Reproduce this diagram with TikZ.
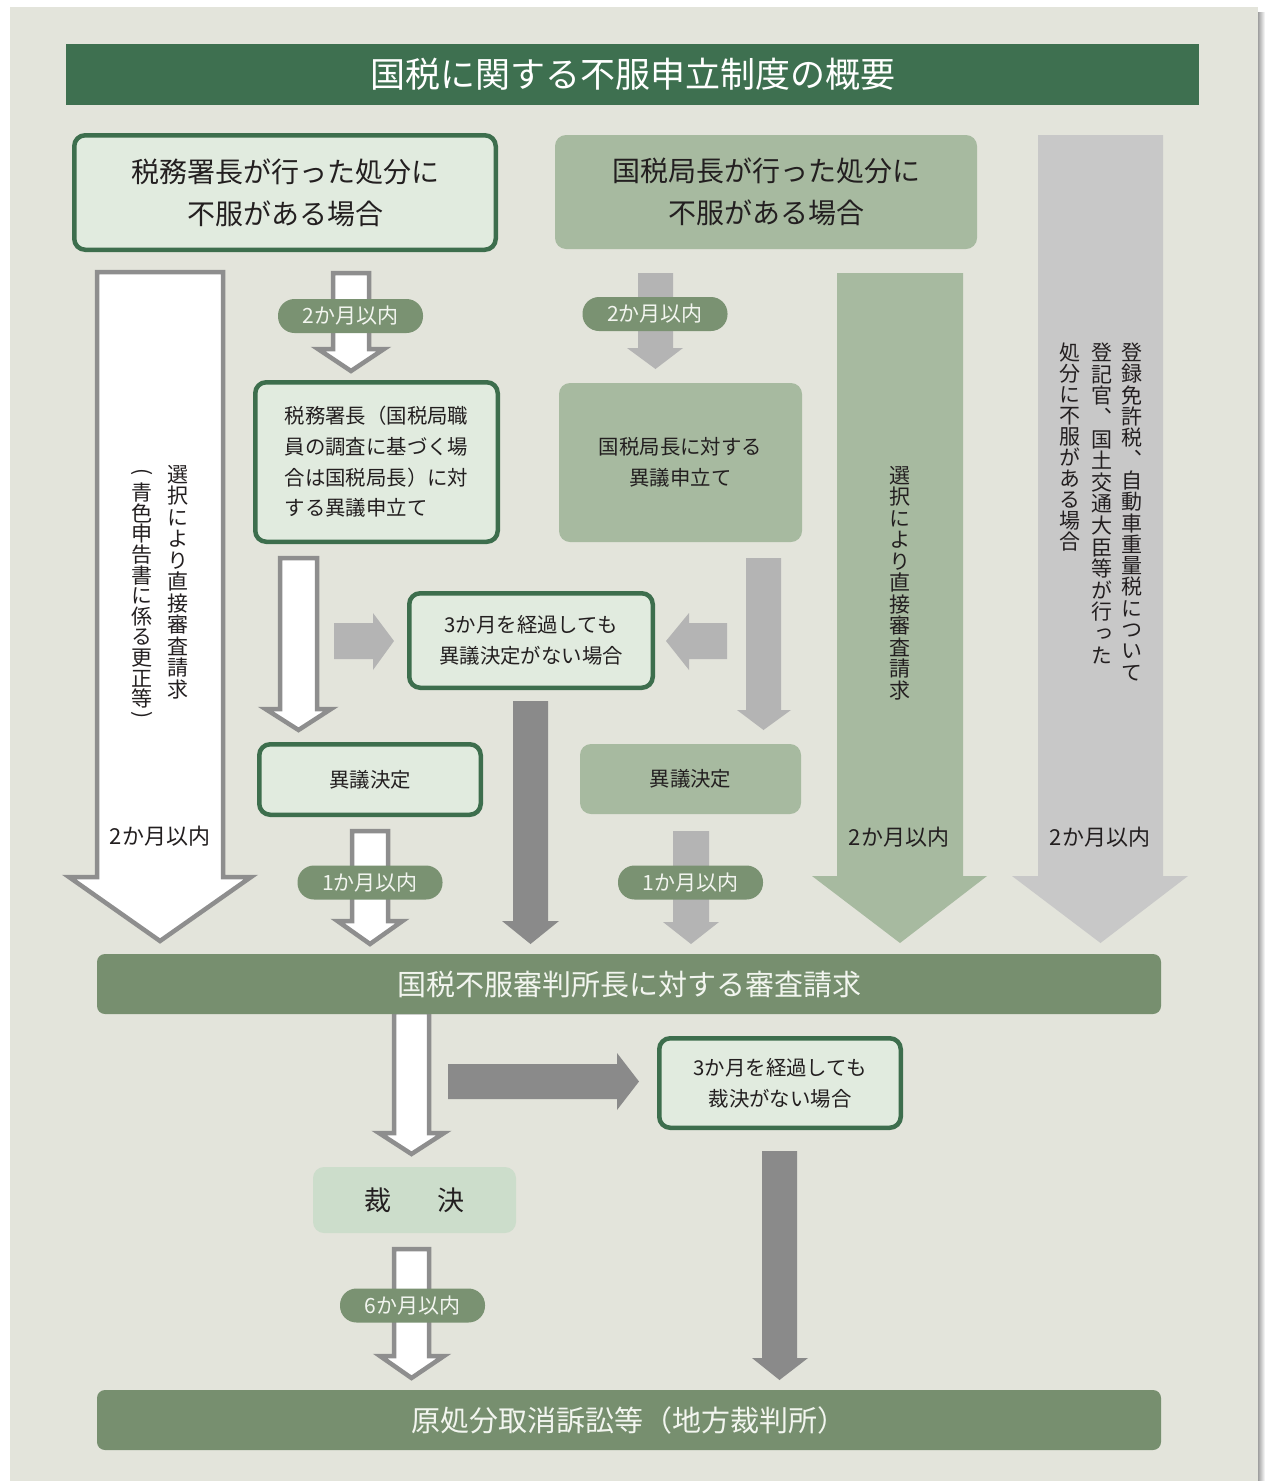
\documentclass[tikz,border=0pt]{standalone}
\usepackage{fontspec}
\setmainfont{Noto Sans CJK JP}
\newfontfamily\vjp[RawFeature=+vert]{Noto Sans CJK JP}
\definecolor{panel}{HTML}{E3E4DB}
\definecolor{titlec}{HTML}{3E7050}
\definecolor{dkgreen}{HTML}{3D6E4D}
\definecolor{ltgreen}{HTML}{E1EBDF}
\definecolor{mdgreen}{HTML}{A7BAA0}
\definecolor{pillc}{HTML}{7A9272}
\definecolor{barc}{HTML}{778F6F}
\definecolor{grayA}{HTML}{B4B4B4}
\definecolor{grayB}{HTML}{C8C8C8}
\definecolor{grayC}{HTML}{8A8A8A}
\definecolor{bordgray}{HTML}{8E8E8E}
\definecolor{saic}{HTML}{CCDDCB}
\definecolor{txt}{HTML}{231F20}
\definecolor{pilltxt}{HTML}{F2F5EF}
\newcommand\vcol[2]{\vbox{\baselineskip=#1\lineskiplimit=-\maxdimen\lineskip=0pt\vcolloop#2\relax}}
\def\vcolloop#1{\ifx\relax#1\else\hbox to 1em{\hss#1\hss}\expandafter\vcolloop\fi}
% #1 style, #2 xl, #3 xr, #4 top, #5 neck, #6 head left, #7 head right, #8 tip
\newcommand\DArr[8]{\path[#1] (#2,#4) -- (#3,#4) -- (#3,#5) -- (#7,#5) -- ({(#2+#3)/2},#8) -- (#6,#5) -- (#2,#5) -- cycle;}
% #1 style, #2 x start, #3 x neck, #4 tip x, #5 y top, #6 y bottom, #7 head top, #8 head bottom
\newcommand\RArr[8]{\path[#1] (#2,#5) -- (#3,#5) -- (#3,#7) -- (#4,{(#5+#6)/2}) -- (#3,#8) -- (#3,#6) -- (#2,#6) -- cycle;}
\tikzset{
  base/.style={inner sep=0pt, outer sep=0pt, text=txt},
  dbox/.style={base, draw=dkgreen, line width=4.5pt, fill=ltgreen, rounded corners=11pt},
  mbox/.style={base, fill=mdgreen, rounded corners=11pt},
  bar/.style={base, fill=barc, rounded corners=8pt, text=pilltxt, minimum width=1064pt, minimum height=60pt, font=\fontsize{29}{29}\selectfont},
  pill/.style={base, fill=pillc, rounded corners=16.5pt, text=pilltxt, font=\fontsize{21}{21}\selectfont, minimum width=145pt, minimum height=34pt},
  wa/.style={draw=bordgray, line width=4.5pt, fill=white, line join=miter, miter limit=10},
  vt/.style={base, font=\vjp\fontsize{21}{21}\selectfont},
  big/.style={base, font=\fontsize{22}{22}\selectfont},
  small/.style={font=\fontsize{20.4}{30.7}\selectfont, align=center},
}
\begin{document}
\begin{tikzpicture}[x=1pt,y=-1pt]
\useasboundingbox (0,0) rectangle (1265,1481);
\fill[white] (0,0) rectangle (1265,1481);
\shade[left color=gray!75, right color=white] (1258,12) rectangle (1265,1481);
\fill[panel] (10,7) rectangle (1258,1481);

% title
\node[base, fill=titlec, minimum width=1133pt, minimum height=61pt, text=white, font=\fontsize{35}{35}\selectfont] (title) at (632.5,74.5) {国税に関する不服申立制度の概要};

% big arrows
\DArr{wa}{97}{223}{272}{877}{69}{251}{941}
\DArr{fill=mdgreen}{837}{963}{273}{876}{812}{987}{943}
\DArr{fill=grayB}{1038}{1163}{135}{876}{1012}{1188}{943}

% small arrows
\DArr{wa}{333}{369}{273}{349}{318}{384}{371}
\DArr{fill=grayA}{638}{673}{273}{348}{627}{683}{369}
\DArr{wa}{280}{317}{558}{709}{265.5}{331}{730}
\DArr{fill=grayA}{746}{781}{558}{710}{737}{791}{730}
\RArr{fill=grayA}{334}{373}{394}{623}{659}{613}{670}
\RArr{fill=grayA}{727}{689}{666}{623}{659}{613}{670}
\DArr{fill=grayC}{513}{548}{701}{921}{502}{559}{944}
\DArr{wa}{352}{388}{831}{921}{337.5}{402.5}{944}
\DArr{fill=grayA}{673}{709}{831}{922}{663}{719}{944}
\DArr{wa}{394}{429}{1012}{1133}{379}{444}{1154}
\RArr{fill=grayC}{448}{617}{639}{1064}{1099}{1053}{1110}
\DArr{fill=grayC}{762}{797}{1151}{1358}{752}{808}{1380}
\DArr{wa}{394}{429}{1249}{1356}{380}{444}{1378}

% boxes
\node[dbox, minimum width=421.5pt, minimum height=114.5pt, font=\fontsize{28}{42}\selectfont, align=center] (b1) at (285,192.5) {税務署長が行った処分に\\不服がある場合};
\node[mbox, minimum width=422pt, minimum height=114pt, font=\fontsize{28}{42}\selectfont, align=center] (b2) at (766,192) {国税局長が行った処分に\\不服がある場合};
\node[dbox, small, align=left, minimum width=242.5pt, minimum height=159.5pt] (b3) at (376.5,462) {税務署長（国税局職\\員の調査に基づく場\\合は国税局長）に対\\する異議申立て};
\node[mbox, small, minimum width=243pt, minimum height=159pt] (b4) at (680.5,462.5) {国税局長に対する\\異議申立て};
\node[dbox, small, minimum width=243.5pt, minimum height=94.5pt] (b5) at (531,640.5) {3か月を経過しても\\異議決定がない場合};
\node[dbox, small, minimum width=221.5pt, minimum height=70.5pt] (b6) at (370,779.5) {異議決定};
\node[mbox, small, minimum width=221pt, minimum height=70pt] (b7) at (690.5,779) {異議決定};
\node[dbox, small, minimum width=241.5pt, minimum height=89.5pt] (b8) at (780,1083) {3か月を経過しても\\裁決がない場合};
\node[base, fill=saic, rounded corners=11pt, minimum width=203pt, minimum height=66pt, font=\fontsize{27}{27}\selectfont] (b9) at (414.5,1200) {裁\hspace{47pt}決};

% bars
\node[bar] (bar1) at (629,984) {国税不服審判所長に対する審査請求};
\node[bar] (bar2) at (629,1420) {原処分取消訴訟等（地方裁判所）};

% pills
\node[pill] (p1) at (350.5,316) {2か月以内};
\node[pill] (p2) at (655,314) {2か月以内};
\node[pill] (p3) at (370,882.5) {1か月以内};
\node[pill] (p4) at (690.5,882.5) {1か月以内};
\node[pill] (p5) at (412.5,1305.5) {6か月以内};

% big arrow labels
\node[big] (l1) at (160,836) {2か月以内};
\node[big] (l2) at (899,837) {2か月以内};
\node[big] (l3) at (1100,837) {2か月以内};

% vertical texts
\node[vt, anchor=north] (vA1) at (178,465) {\vcol{21.5pt}{選択により直接審査請求}};
\node[vt, anchor=north] (vA2) at (142,483) {\vcol{20.6pt}{青色申告書に係る更正等}};
\node[base, rotate=-90, font=\fontsize{21}{21}\selectfont] (pA1) at (142,472) {(};
\node[base, rotate=-90, font=\fontsize{21}{21}\selectfont] (pA2) at (142,715) {)};
\node[vt, anchor=north] (vG1) at (900,466) {\vcol{21.5pt}{選択により直接審査請求}};
\node[vt, anchor=north] (vR1) at (1132,343) {\vcol{21.3pt}{登録免許税、自動車重量税について}};
\node[vt, anchor=north] (vR2) at (1102,343) {\vcol{21.6pt}{登記官、国土交通大臣等が行った}};
\node[vt, anchor=north] (vR3) at (1070,343) {\vcol{21pt}{処分に不服がある場合}};
\end{tikzpicture}
\end{document}
